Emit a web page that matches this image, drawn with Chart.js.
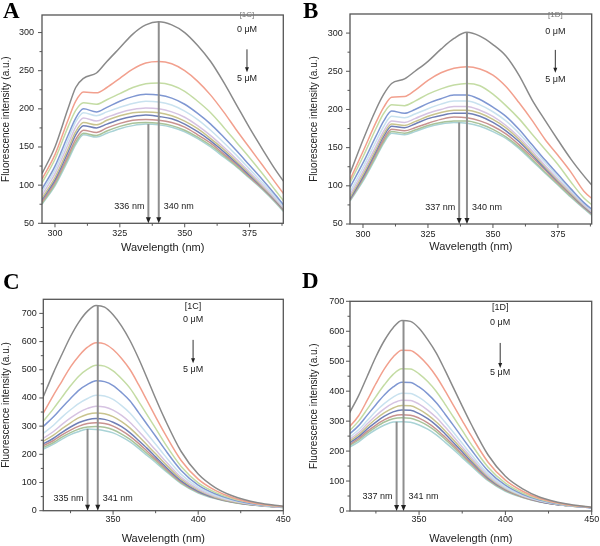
<!DOCTYPE html>
<html>
<head>
<meta charset="utf-8">
<script src="https://cdn.jsdelivr.net/npm/chart.js@4.4.1/dist/chart.umd.min.js"></script>
<style>
  body { margin: 0; background: #fff; }
  #page { position: relative; width: 600px; height: 546px; overflow: hidden; background: #fff; }
  .panel { position: absolute; width: 300px; height: 273px; }
  .tag { position: absolute; font-family: "Liberation Serif", serif; font-weight: bold; font-size: 23px; line-height: 23px; color: #000; }
</style>
</head>
<body>
<div id="page">
  <div class="panel" style="left:0;top:0"><canvas id="chartA"></canvas></div>
  <div class="panel" style="left:300px;top:0"><canvas id="chartB"></canvas></div>
  <div class="panel" style="left:0;top:273px"><canvas id="chartC"></canvas></div>
  <div class="panel" style="left:300px;top:273px"><canvas id="chartD"></canvas></div>
  <div class="tag" style="left:3px;top:-1px">A</div>
  <div class="tag" style="left:303px;top:-1px">B</div>
  <div class="tag" style="left:3px;top:270px">C</div>
  <div class="tag" style="left:302px;top:269px">D</div>
</div>
<script>
// wavelengths (nm)
const waveAB = [295, 300, 305, 308, 311, 316, 320, 325, 330, 335, 340, 345, 350, 355, 360, 365, 370, 375, 380, 385, 390];
const waveCD = [308, 315, 320, 325, 330, 335, 340, 345, 350, 355, 360, 365, 370, 375, 380, 390, 400, 410, 420, 435, 450];

// one curve per concentration, 0 uM first, 5 uM last
const spectraA = [
    [115, 150, 200, 228, 240, 247, 262, 280, 298, 310, 314, 310, 300, 283, 262, 235, 205, 175, 147, 120, 96],
    [108, 140, 185, 210, 222, 221, 228, 240, 252, 260, 262, 259, 250, 236, 218, 196, 172, 149, 126, 103, 80],
    [103, 134, 176, 198, 208, 206, 212, 220, 228, 233, 234, 231, 223, 210, 195, 176, 156, 136, 115, 93, 71],
    [95, 125, 165, 188, 200, 196, 202, 210, 216, 219, 218, 214, 206, 194, 180, 163, 145, 126, 107, 87, 66],
    [91, 120, 159, 183, 195, 191, 196, 202, 207, 210, 209, 205, 197, 186, 172, 156, 139, 121, 103, 84, 64],
    [87, 115, 153, 176, 188, 184, 189, 195, 199, 201, 200, 196, 189, 178, 165, 150, 134, 117, 100, 82, 63],
    [83, 110, 147, 170, 182, 179, 185, 191, 195, 196, 195, 191, 184, 174, 161, 147, 131, 115, 98, 81, 62],
    [81, 107, 143, 166, 178, 175, 180, 186, 190, 192, 190, 187, 180, 170, 158, 144, 129, 113, 97, 80, 61],
    [78, 104, 138, 160, 172, 169, 175, 181, 185, 186, 185, 182, 176, 166, 155, 141, 127, 111, 96, 79, 60],
    [76, 101, 135, 156, 168, 165, 171, 177, 181, 182, 181, 178, 172, 163, 152, 139, 125, 110, 95, 78, 59],
    [75, 99, 132, 153, 166, 163, 168, 174, 178, 180, 179, 176, 170, 161, 150, 137, 124, 109, 94, 77, 58]
];
const spectraB = [
    [116, 160, 200, 220, 234, 240, 250, 263, 279, 293, 301, 296, 285, 270, 245, 213, 186, 160, 135, 113, 93],
    [108, 145, 183, 203, 216, 217, 225, 238, 248, 254, 256, 253, 245, 230, 209, 186, 161, 140, 118, 93, 78],
    [104, 138, 175, 195, 206, 205, 211, 220, 227, 232, 234, 231, 220, 205, 188, 168, 148, 128, 105, 84, 70],
    [98, 130, 165, 185, 198, 195, 200, 208, 214, 219, 219, 213, 203, 191, 174, 154, 134, 115, 96, 78, 64],
    [92, 124, 158, 178, 191, 189, 194, 201, 207, 211, 211, 206, 197, 185, 169, 150, 131, 112, 94, 77, 62],
    [88, 119, 152, 172, 185, 183, 188, 195, 200, 204, 204, 199, 191, 179, 164, 146, 127, 109, 92, 75, 61],
    [85, 115, 148, 168, 181, 179, 184, 191, 196, 199, 199, 195, 187, 176, 161, 143, 125, 107, 90, 74, 60],
    [83, 112, 145, 165, 178, 176, 181, 188, 192, 195, 195, 191, 183, 172, 158, 141, 123, 106, 89, 73, 59],
    [82, 110, 142, 161, 174, 172, 176, 182, 187, 190, 189, 185, 178, 168, 154, 138, 121, 104, 88, 72, 58],
    [81, 108, 139, 158, 171, 169, 173, 179, 183, 185, 185, 181, 174, 164, 151, 135, 118, 102, 86, 71, 57],
    [80, 106, 137, 156, 169, 167, 171, 177, 181, 183, 182, 178, 171, 162, 149, 133, 117, 101, 85, 70, 56]
];
const spectraC = [
    [390, 490, 555, 618, 670, 708, 728, 722, 695, 655, 603, 540, 470, 398, 330, 210, 130, 82, 53, 28, 16],
    [335, 410, 460, 510, 550, 580, 596, 592, 572, 540, 500, 447, 390, 333, 278, 178, 112, 72, 47, 25, 15],
    [310, 362, 403, 443, 478, 502, 516, 513, 496, 468, 434, 388, 340, 292, 243, 157, 99, 65, 43, 24, 14],
    [293, 333, 366, 398, 428, 448, 461, 458, 444, 419, 389, 348, 306, 264, 221, 143, 91, 60, 40, 22, 13],
    [270, 303, 332, 358, 381, 398, 410, 407, 395, 373, 346, 310, 273, 236, 198, 129, 83, 55, 37, 21, 13],
    [253, 281, 306, 329, 349, 363, 371, 368, 357, 338, 313, 282, 249, 215, 181, 118, 77, 51, 35, 20, 12],
    [243, 268, 291, 312, 330, 342, 347, 344, 334, 316, 293, 264, 233, 202, 170, 112, 73, 48, 33, 20, 12],
    [234, 257, 278, 297, 313, 323, 327, 324, 314, 298, 276, 249, 221, 191, 161, 106, 69, 46, 32, 19, 12],
    [228, 249, 269, 286, 300, 309, 312, 309, 300, 284, 264, 239, 211, 183, 155, 102, 67, 45, 31, 19, 12],
    [222, 242, 261, 277, 290, 297, 299, 296, 287, 272, 253, 229, 203, 177, 150, 99, 65, 44, 30, 18, 11],
    [216, 236, 254, 270, 281, 290, 288, 284, 276, 262, 244, 221, 196, 171, 145, 96, 63, 43, 30, 18, 11]
];
const spectraD = [
    [310, 385, 450, 515, 570, 612, 636, 633, 610, 572, 527, 470, 410, 350, 292, 187, 116, 74, 46, 24, 12],
    [270, 318, 370, 425, 475, 514, 537, 536, 517, 487, 449, 402, 352, 302, 253, 163, 103, 66, 42, 22, 12],
    [258, 300, 340, 382, 422, 456, 475, 474, 458, 432, 399, 357, 313, 269, 225, 146, 93, 60, 39, 21, 12],
    [248, 285, 320, 355, 388, 414, 430, 429, 414, 391, 361, 324, 285, 245, 206, 134, 86, 56, 37, 20, 11],
    [238, 271, 302, 333, 359, 380, 393, 392, 379, 358, 331, 297, 262, 226, 190, 124, 80, 53, 35, 19, 11],
    [232, 262, 291, 318, 342, 360, 370, 369, 357, 337, 312, 281, 248, 214, 180, 118, 77, 51, 34, 19, 11],
    [226, 255, 282, 307, 328, 344, 352, 351, 339, 321, 297, 268, 237, 205, 173, 114, 74, 49, 33, 18, 11],
    [221, 248, 274, 297, 317, 331, 337, 336, 325, 308, 286, 258, 228, 198, 167, 110, 72, 48, 32, 18, 11],
    [216, 242, 266, 287, 305, 317, 321, 320, 310, 294, 273, 247, 219, 190, 161, 106, 70, 47, 31, 18, 11],
    [213, 237, 260, 280, 297, 308, 311, 310, 300, 285, 265, 240, 213, 185, 157, 104, 68, 46, 31, 18, 11],
    [208, 231, 253, 272, 287, 297, 298, 296, 287, 273, 254, 230, 205, 178, 152, 101, 66, 45, 30, 18, 11]
];

const lineColors = ["#8a8a8a", "#f2a08e", "#c4dca4", "#7f97d2", "#c9e2ef", "#d6c3e2",
    "#c9c48e", "#6f7fb6", "#c89290", "#a9c39a", "#a9d3d6"];

// axis ticks (major ones get labels)
const xTicksAB = [300, 312.5, 325, 337.5, 350, 362.5, 375, 387.5];
const xLabelsAB = [300, 325, 350, 375];
const yTicksAB = [50, 75, 100, 125, 150, 175, 200, 225, 250, 275, 300];
const yLabelsAB = [50, 100, 150, 200, 250, 300];
const xTicksCD = [325, 350, 375, 400, 425, 450];
const xLabelsCD = [350, 400, 450];
const yTicksCD = [0, 50, 100, 150, 200, 250, 300, 350, 400, 450, 500, 550, 600, 650, 700];
const yLabelsCD = [0, 100, 200, 300, 400, 500, 600, 700];

// emission maxima: quenched (5 uM) and free (0 uM)
const shiftA = [336, 340];
const shiftB = [337, 340];
const shiftC = [335, 341];
const shiftD = [337, 341];
const concText = ["0 \u03bcM", "5 \u03bcM"];

Chart.defaults.font.family = "'Liberation Sans', Arial, sans-serif";
Chart.defaults.color = "#222";

const decor = {
    id: "decor",
    afterDatasetsDraw(chart) {
        const o = chart.options.plugins.decor;
        const {ctx, chartArea: a} = chart;
        const x = chart.scales.x, y = chart.scales.y;
        ctx.save();

        // frame
        ctx.strokeStyle = "#555";
        ctx.lineWidth = 1.3;
        ctx.strokeRect(a.left, a.top, a.right - a.left, a.bottom - a.top);

        // tick marks
        ctx.lineWidth = 1;
        o.xTicks.forEach(v => {
            const px = x.getPixelForValue(v);
            const len = o.xLabels.includes(v) ? 4 : 2.5;
            ctx.beginPath(); ctx.moveTo(px, a.bottom); ctx.lineTo(px, a.bottom + len); ctx.stroke();
        });
        o.yTicks.forEach(v => {
            const py = y.getPixelForValue(v);
            const len = o.yLabels.includes(v) ? 4 : 2.5;
            ctx.beginPath(); ctx.moveTo(a.left, py); ctx.lineTo(a.left - len, py); ctx.stroke();
        });

        // peak shift arrows
        const last = o.spectra[o.spectra.length - 1];
        const tops = [Math.max(...last), Math.max(...o.spectra[0])];
        ctx.font = "9px 'Liberation Sans'";
        ctx.textBaseline = "middle";
        o.shift.forEach((nm, i) => {
            const px = x.getPixelForValue(nm);
            ctx.strokeStyle = "#8e8e8e";
            ctx.lineWidth = 2;
            ctx.beginPath();
            ctx.moveTo(px, y.getPixelForValue(tops[i]));
            ctx.lineTo(px, a.bottom - 5);
            ctx.stroke();
            ctx.fillStyle = "#222";
            ctx.beginPath();
            ctx.moveTo(px - 2.5, a.bottom - 6);
            ctx.lineTo(px + 2.5, a.bottom - 6);
            ctx.lineTo(px, a.bottom);
            ctx.closePath();
            ctx.fill();
            ctx.textAlign = i === 0 ? "right" : "left";
            ctx.fillText(nm + " nm", px + (i === 0 ? -4 : 5), y.getPixelForValue(o.labelY));
        });

        // concentration legend
        const c = o.conc;
        const cx = x.getPixelForValue(c.x);
        ctx.textAlign = "center";
        ctx.fillStyle = o.tagColor;
        ctx.font = o.tagFont;
        ctx.fillText(o.compound, cx, y.getPixelForValue(c.tag));
        ctx.fillStyle = "#222";
        ctx.font = "9px 'Liberation Sans'";
        ctx.fillText(concText[0], cx, y.getPixelForValue(c.start));
        ctx.fillText(concText[1], cx, y.getPixelForValue(c.end));
        const ay0 = y.getPixelForValue(c.from), ay1 = y.getPixelForValue(c.to);
        ctx.strokeStyle = "#333";
        ctx.lineWidth = 1;
        ctx.beginPath(); ctx.moveTo(cx, ay0); ctx.lineTo(cx, ay1 - 4); ctx.stroke();
        ctx.beginPath();
        ctx.moveTo(cx - 2, ay1 - 5); ctx.lineTo(cx + 2, ay1 - 5); ctx.lineTo(cx, ay1);
        ctx.closePath(); ctx.fill();

        ctx.restore();
    }
};

function makePanel(p) {
    const datasets = p.spectra.map((vals, i) => ({
        data: p.wave.map((w, j) => ({x: w, y: vals[j]})),
        borderColor: lineColors[i],
        borderWidth: 1.5,
        pointRadius: 0,
        cubicInterpolationMode: "monotone",
        fill: false
    }));

    new Chart(document.getElementById(p.id), {
        type: "line",
        data: {datasets},
        plugins: [decor],
        options: {
            responsive: true,
            maintainAspectRatio: false,
            animation: false,
            layout: {padding: p.pad},
            plugins: {
                legend: {display: false},
                tooltip: {enabled: false},
                decor: {
                    spectra: p.spectra, shift: p.shift, labelY: p.labelY, conc: p.conc,
                    compound: p.compound, tagColor: p.tagColor, tagFont: p.tagFont,
                    xTicks: p.xTicks, xLabels: p.xLabels, yTicks: p.yTicks, yLabels: p.yLabels
                }
            },
            scales: {
                x: {
                    type: "linear",
                    min: p.xMin, max: p.xMax,
                    border: {display: false},
                    grid: {display: false, drawTicks: true, tickLength: p.xTickLen},
                    afterBuildTicks: s => { s.ticks = p.xTicks.map(v => ({value: v})); },
                    afterFit: s => { s.height = p.xHeight; },
                    ticks: {
                        autoSkip: false, maxRotation: 0, padding: p.xTickPad,
                        font: {size: 9}, color: "#222",
                        callback: v => p.xLabels.includes(v) ? String(v) : ""
                    },
                    title: {display: true, text: "Wavelength (nm)", font: {size: 11}, color: "#222", padding: 0}
                },
                y: {
                    type: "linear",
                    min: p.yMin, max: p.yMax,
                    border: {display: false},
                    grid: {display: false, drawTicks: true, tickLength: 4},
                    afterBuildTicks: s => { s.ticks = p.yTicks.map(v => ({value: v})); },
                    afterFit: s => { s.width = p.yWidth; },
                    ticks: {
                        autoSkip: false, padding: p.yTickPad,
                        font: {size: 9}, color: "#222",
                        callback: v => p.yLabels.includes(v) ? String(v) : ""
                    },
                    title: {display: true, text: "Fluorescence intensity (a.u.)", font: {size: 10}, color: "#222", padding: {top: 0.6, bottom: 0}}
                }
            }
        }
    });
}

makePanel({
    id: "chartA", wave: waveAB, spectra: spectraA, shift: shiftA, labelY: 72,
    xMin: 295, xMax: 388, yMin: 50, yMax: 323,
    xTicks: xTicksAB, xLabels: xLabelsAB, yTicks: yTicksAB, yLabels: yLabelsAB,
    compound: "[1C]", tagColor: "#777", tagFont: "8px 'Liberation Sans'",
    conc: {x: 374, tag: 323, start: 304, from: 278, to: 248, end: 240},
    pad: {left: 0, top: 15, right: 16.7, bottom: 18.4},
    yWidth: 42, xHeight: 31.3, yTickPad: 4, xTickPad: 1, xTickLen: 4
});
makePanel({
    id: "chartB", wave: waveAB, spectra: spectraB, shift: shiftB, labelY: 71,
    xMin: 295, xMax: 388, yMin: 50, yMax: 325,
    xTicks: xTicksAB, xLabels: xLabelsAB, yTicks: yTicksAB, yLabels: yLabelsAB,
    compound: "[1D]", tagColor: "#777", tagFont: "8px 'Liberation Sans'",
    conc: {x: 374, tag: 324, start: 302, from: 278, to: 248, end: 239},
    pad: {left: 8, top: 14, right: 8.3, bottom: 19.4},
    yWidth: 42, xHeight: 29.6, yTickPad: 3.3, xTickPad: 1, xTickLen: 4
});
makePanel({
    id: "chartC", wave: waveCD, spectra: spectraC, shift: shiftC, labelY: 45,
    xMin: 309, xMax: 450, yMin: 0, yMax: 750,
    xTicks: xTicksCD, xLabels: xLabelsCD, yTicks: yTicksCD, yLabels: yLabelsCD,
    compound: "[1C]", tagColor: "#222", tagFont: "9px 'Liberation Sans'",
    conc: {x: 397, tag: 725, start: 677, from: 606, to: 523, end: 500},
    pad: {left: 0, top: 26.3, right: 16.7, bottom: 0},
    yWidth: 43.3, xHeight: 35.3, yTickPad: 2.6, xTickPad: 0, xTickLen: 3
});
makePanel({
    id: "chartD", wave: waveCD, spectra: spectraD, shift: shiftD, labelY: 47,
    xMin: 310, xMax: 450, yMin: 0, yMax: 700,
    xTicks: xTicksCD, xLabels: xLabelsCD, yTicks: yTicksCD, yLabels: yLabelsCD,
    compound: "[1D]", tagColor: "#222", tagFont: "9px 'Liberation Sans'",
    conc: {x: 397, tag: 678, start: 628, from: 561, to: 477, end: 461},
    pad: {left: 8, top: 28.3, right: 8.3, bottom: 0},
    yWidth: 42, xHeight: 35, yTickPad: 1.7, xTickPad: 0, xTickLen: 3
});
</script>
</body>
</html>
